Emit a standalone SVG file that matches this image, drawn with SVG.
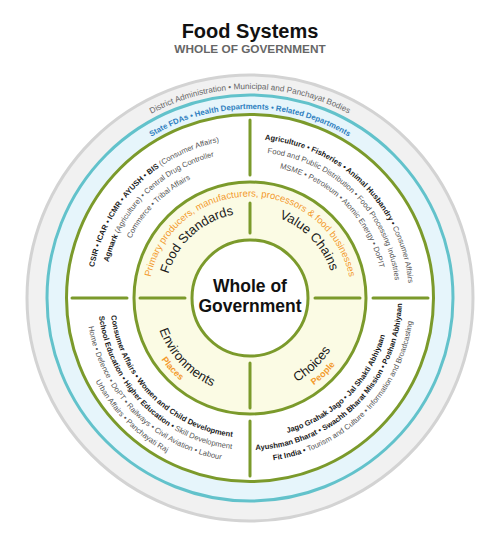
<svg xmlns="http://www.w3.org/2000/svg" xmlns:xlink="http://www.w3.org/1999/xlink" width="500" height="549" viewBox="0 0 500 549">
<style>
text{font-family:"Liberation Sans",Arial,sans-serif}
.ring{stroke-width:3}
.g{stroke:#7b9a2b;fill:none;stroke-width:3;stroke-linecap:round}
.q{font-size:7.6px;fill:#555}
.b{font-weight:bold;fill:#1a1a1a}
.cat{font-size:13px;fill:#1a1a1a}
.sub{font-size:9px;font-weight:bold;fill:#f39a2d}
</style>
<defs>
<path id="pDist" d="M 41 298 A 209 209 0 0 1 459 298"/>
<path id="pState" d="M 61 298 A 189 189 0 0 1 439 298"/>
<path id="pOr" d="M 148.5 298 A 101.5 101.5 0 0 1 351.5 298"/>
<path id="tl1" d="M 91 298 A 159 159 0 0 1 250 139"/>
<path id="tl2" d="M 104 298 A 146 146 0 0 1 250 152"/>
<path id="tl3" d="M 117 298 A 133 133 0 0 1 250 165"/>
<path id="tlc" d="M 165 298 A 85 85 0 0 1 250 213"/>
<path id="tr1" d="M 250 139 A 159 159 0 0 1 409 298"/>
<path id="tr2" d="M 250 152 A 146 146 0 0 1 396 298"/>
<path id="tr3" d="M 250 165 A 133 133 0 0 1 383 298"/>
<path id="trc" d="M 250 213 A 85 85 0 0 1 335 298"/>
<path id="bl1" d="M 110 298 A 140 140 0 0 0 250 438"/>
<path id="bl2" d="M 98 298 A 152 152 0 0 0 250 450"/>
<path id="bl3" d="M 86 298 A 164 164 0 0 0 250 462"/>
<path id="bl4" d="M 74.5 298 A 175.5 175.5 0 0 0 250 473.5"/>
<path id="blc" d="M 154 298 A 96 96 0 0 0 250 394"/>
<path id="bls" d="M 142 298 A 108 108 0 0 0 250 406"/>
<path id="br1" d="M 250 438 A 140 140 0 0 0 390 298"/>
<path id="br2" d="M 250 450 A 152 152 0 0 0 402 298"/>
<path id="br3" d="M 250 462 A 164 164 0 0 0 414 298"/>
<path id="brc" d="M 250 394 A 96 96 0 0 0 346 298"/>
<path id="brs" d="M 250 406 A 108 108 0 0 0 358 298"/>
</defs>
<rect width="500" height="549" fill="#fff"/>
<g id="title">
<text x="250" y="38" text-anchor="middle" font-size="20" font-weight="bold" fill="#111">Food Systems</text>
<text x="250" y="52.5" text-anchor="middle" font-size="11.8" font-weight="bold" fill="#666">WHOLE OF GOVERNMENT</text>
</g>
<g id="ring-district">
<circle cx="250" cy="298" r="223" fill="#f1f1f1" stroke="#d3d3d3" class="ring"/>
<text font-size="8.2" fill="#666"><textPath xlink:href="#pDist" href="#pDist" startOffset="50%" text-anchor="middle">District Administration • Municipal and Panchayat Bodies</textPath></text>
</g>
<g id="ring-state">
<circle cx="250" cy="298" r="203" fill="#e6f5fb" stroke="#62c2cb" class="ring"/>
<text font-size="7.8" font-weight="bold" fill="#2e7fc0"><textPath xlink:href="#pState" href="#pState" startOffset="50%" text-anchor="middle">State FDAs • Health Departments • Related Departments</textPath></text>
</g>
<g id="ring-central">
<circle cx="250" cy="298" r="183.5" fill="#fff" stroke="#7b9a2b" class="ring"/>
</g>
<g id="ring-core">
<circle cx="250" cy="298" r="116" fill="#fbfbe4" stroke="#7b9a2b" class="ring"/>
<text font-size="9.5" fill="#f39a2d"><textPath xlink:href="#pOr" href="#pOr" startOffset="50%" text-anchor="middle">Primary producers, manufacturers, processors &amp; food businesses</textPath></text>
</g>
<g id="center">
<circle cx="250" cy="298" r="58" fill="#fff" stroke="#7b9a2b" class="ring"/>
<text x="250" y="292" text-anchor="middle" font-size="17.5" font-weight="bold" fill="#111">Whole of</text>
<text x="250" y="312" text-anchor="middle" font-size="17.5" font-weight="bold" fill="#111">Government</text>
</g>
<g id="food-standards">
<text class="cat"><textPath xlink:href="#tlc" href="#tlc" startOffset="53%" text-anchor="middle">Food Standards</textPath></text>
<text class="q"><textPath xlink:href="#tl1" href="#tl1" startOffset="50%" text-anchor="middle"><tspan class="b">CSIR • ICAR • ICMR • AYUSH • BIS </tspan>(Consumer Affairs)</textPath></text>
<text class="q"><textPath xlink:href="#tl2" href="#tl2" startOffset="50%" text-anchor="middle"><tspan class="b">Agmark</tspan> (Agriculture) • Central Drug Controller</textPath></text>
<text class="q"><textPath xlink:href="#tl3" href="#tl3" startOffset="50%" text-anchor="middle">Commerce • Tribal Affairs</textPath></text>
</g>
<g id="value-chains">
<text class="cat"><textPath xlink:href="#trc" href="#trc" startOffset="51%" text-anchor="middle">Value Chains</textPath></text>
<text class="q"><textPath xlink:href="#tr1" href="#tr1" startOffset="50%" text-anchor="middle"><tspan class="b">Agriculture • Fisheries • Animal Husbandry • </tspan>Consumer Affairs</textPath></text>
<text class="q"><textPath xlink:href="#tr2" href="#tr2" startOffset="50%" text-anchor="middle">Food and Public Distribution • Food Processing Industries</textPath></text>
<text class="q"><textPath xlink:href="#tr3" href="#tr3" startOffset="50%" text-anchor="middle">MSME • Petroleum • Atomic Energy • DoPIT</textPath></text>
</g>
<g id="environments">
<text class="cat"><textPath xlink:href="#blc" href="#blc" startOffset="48%" text-anchor="middle">Environments</textPath></text>
<text class="sub"><textPath xlink:href="#bls" href="#bls" startOffset="47%" text-anchor="middle">Places</textPath></text>
<text class="q"><textPath xlink:href="#bl1" href="#bl1" startOffset="50%" text-anchor="middle"><tspan class="b">Consumer Affairs • Women and Child Development</tspan></textPath></text>
<text class="q"><textPath xlink:href="#bl2" href="#bl2" startOffset="50%" text-anchor="middle"><tspan class="b">School Education • Higher Education • </tspan>Skill Development</textPath></text>
<text class="q"><textPath xlink:href="#bl3" href="#bl3" startOffset="50%" text-anchor="middle">Home • Defence • DoPT • Railways • Civil Aviation • Labour</textPath></text>
<text class="q"><textPath xlink:href="#bl4" href="#bl4" startOffset="50%" text-anchor="middle">Urban Affairs • Panchayati Raj</textPath></text>
</g>
<g id="choices">
<text class="cat"><textPath xlink:href="#brc" href="#brc" startOffset="48%" text-anchor="middle">Choices</textPath></text>
<text class="sub"><textPath xlink:href="#brs" href="#brs" startOffset="49%" text-anchor="middle">People</textPath></text>
<text class="q"><textPath xlink:href="#br1" href="#br1" startOffset="50%" text-anchor="middle"><tspan class="b">Jago Grahak Jago • Jal Shakti Abhiyaan</tspan></textPath></text>
<text class="q"><textPath xlink:href="#br2" href="#br2" startOffset="50%" text-anchor="middle"><tspan class="b">Ayushman Bharat • Swachh Bharat Mission • Poshan Abhiyaan</tspan></textPath></text>
<text class="q"><textPath xlink:href="#br3" href="#br3" startOffset="50%" text-anchor="middle"><tspan class="b">Fit India • </tspan>Tourism and Culture • Information and Broadcasting</textPath></text>
</g>
<g id="connectors">
<line class="g" x1="250" y1="175" x2="250" y2="120"/>
<line class="g" x1="250" y1="421" x2="250" y2="476"/>
<line class="g" x1="127" y1="298" x2="72" y2="298"/>
<line class="g" x1="373" y1="298" x2="428" y2="298"/>
<line class="g" x1="250" y1="233" x2="250" y2="203"/>
<line class="g" x1="250" y1="363" x2="250" y2="408"/>
<line class="g" x1="185" y1="298" x2="140" y2="298"/>
<line class="g" x1="315" y1="298" x2="360" y2="298"/>
</g>
</svg>
